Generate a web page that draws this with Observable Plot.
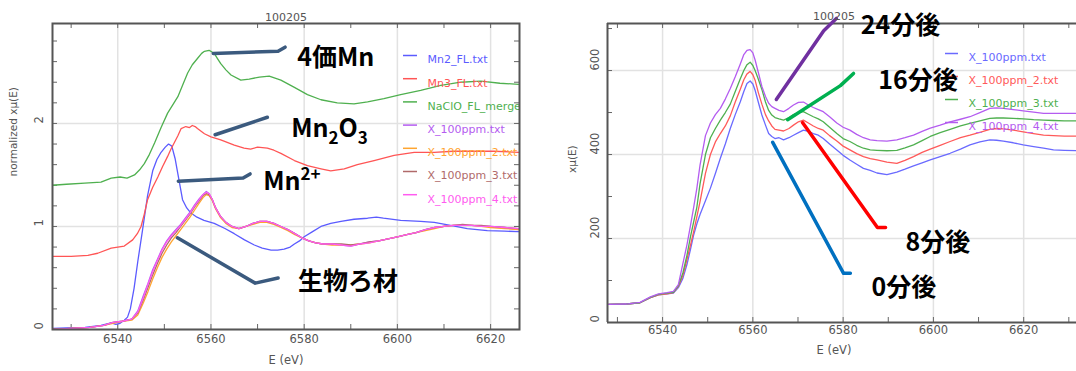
<!DOCTYPE html>
<html><head><meta charset="utf-8">
<script src="https://cdn.jsdelivr.net/npm/d3@7"></script>
<script src="https://cdn.jsdelivr.net/npm/@observablehq/plot@0.6"></script>
<style>
body{margin:0;background:#fff}
#wrap{display:flex;width:1076px;height:371px;overflow:hidden}
#wrap svg{flex:none}
</style>
</head><body><div id="wrap"></div>
<script>
// ---------- LEFT PANEL DATA (normalized xμ(E)) ----------
const leftTitle = "100205";
const leftXTicks = [6540, 6560, 6580, 6600, 6620];
const leftXMinor = [6530, 6540, 6550, 6560, 6570, 6580, 6590, 6600, 6610, 6620];
const leftYTicks = [0, 1, 2];
const leftYMinor = [0.2, 0.4, 0.6, 0.8, 1, 1.2, 1.4, 1.6, 1.8, 2, 2.2, 2.4, 2.6, 2.8];
const leftXDomain = [6526, 6626.2];
const leftYDomain = [0, 2.97];

const mn2E = [6526, 6529, 6533, 6536.4, 6538.6, 6539.6, 6540.5, 6541.4, 6542.1, 6542.7, 6543.5, 6544.3, 6545.3, 6546.4, 6547.5, 6548.4, 6549.3, 6550.2, 6550.9, 6551.6, 6552.3, 6552.9, 6553.9, 6554.8, 6555.7, 6557, 6558.5, 6560.7, 6563, 6565, 6567.2, 6569.3, 6571, 6572.9, 6574.3, 6575.7, 6577, 6577.9, 6579, 6580, 6581.8, 6583.6, 6585.7, 6587.9, 6590.7, 6593.6, 6595.5, 6597, 6600.7, 6605, 6607.9, 6611.4, 6615, 6619.3, 6623, 6626];
const mn2V = [0.01, 0.015, 0.02, 0.04, 0.065, 0.05, 0.06, 0.09, 0.12, 0.20, 0.40, 0.66, 0.96, 1.30, 1.54, 1.65, 1.72, 1.77, 1.80, 1.78, 1.66, 1.51, 1.26, 1.18, 1.13, 1.09, 1.06, 1.03, 0.98, 0.93, 0.87, 0.82, 0.79, 0.77, 0.77, 0.78, 0.80, 0.83, 0.86, 0.90, 0.95, 1.00, 1.03, 1.05, 1.07, 1.08, 1.09, 1.08, 1.06, 1.05, 1.04, 1.01, 0.98, 0.96, 0.955, 0.95];

const mn3E = [6526, 6530, 6533.6, 6535.7, 6538.6, 6541.4, 6543.2, 6544.2, 6545, 6545.7, 6546.4, 6547.5, 6548.6, 6549.6, 6550.7, 6551.4, 6552.1, 6552.9, 6553.6, 6554.6, 6555.4, 6556, 6556.6, 6557.1, 6558.6, 6560, 6562.1, 6565, 6567.1, 6568.5, 6570, 6572.1, 6573.5, 6575, 6577.9, 6580.7, 6583.6, 6585.7, 6588.6, 6591.4, 6595, 6599.3, 6603.6, 6607.9, 6612, 6616.4, 6620.7, 6626];
const mn3V = [0.71, 0.71, 0.72, 0.74, 0.79, 0.81, 0.87, 0.93, 1.00, 1.12, 1.26, 1.38, 1.48, 1.58, 1.68, 1.75, 1.81, 1.88, 1.95, 1.97, 1.96, 1.98, 1.97, 1.95, 1.90, 1.87, 1.84, 1.79, 1.76, 1.75, 1.77, 1.76, 1.74, 1.71, 1.64, 1.59, 1.56, 1.54, 1.56, 1.60, 1.64, 1.69, 1.72, 1.72, 1.73, 1.73, 1.73, 1.72];

const naclE = [6526, 6529, 6532.9, 6536.4, 6538.6, 6540.5, 6542, 6543.6, 6544.7, 6545.7, 6546.8, 6547.9, 6549.3, 6550.7, 6551.8, 6552.9, 6554, 6555, 6556, 6557.1, 6558, 6558.6, 6559.6, 6560.7, 6561.4, 6562.1, 6563.2, 6564.3, 6566.4, 6568.2, 6570.4, 6572.5, 6575, 6577.9, 6580.7, 6583.6, 6587.1, 6590.7, 6593.6, 6597.1, 6600.7, 6605, 6609.3, 6613.6, 6617.9, 6622, 6626];
const naclV = [1.40, 1.41, 1.42, 1.43, 1.47, 1.48, 1.47, 1.50, 1.55, 1.61, 1.70, 1.81, 1.96, 2.10, 2.18, 2.26, 2.38, 2.49, 2.57, 2.63, 2.68, 2.70, 2.71, 2.68, 2.63, 2.58, 2.52, 2.47, 2.42, 2.43, 2.45, 2.46, 2.42, 2.35, 2.28, 2.23, 2.20, 2.19, 2.21, 2.24, 2.28, 2.32, 2.37, 2.40, 2.41, 2.39, 2.38];

const sampE = [6526, 6530, 6534, 6537, 6539, 6541, 6543, 6544.3, 6545.5, 6546.5, 6547.5, 6548.5, 6549.5, 6550.5, 6551.5, 6552.5, 6553.5, 6554.5, 6555.5, 6556.5, 6557.5, 6558.3, 6559, 6559.6, 6560.3, 6561, 6562, 6563.2, 6564.5, 6566, 6567.5, 6569, 6570.5, 6572, 6573.5, 6575, 6576.5, 6578, 6579.5, 6581, 6582.5, 6584, 6586, 6588, 6590, 6592, 6594, 6596, 6598, 6600, 6602, 6604, 6606, 6608, 6610, 6612, 6614, 6616, 6618, 6620, 6623, 6626];
const samp1V = [0.00, 0.01, 0.02, 0.04, 0.07, 0.08, 0.10, 0.18, 0.33, 0.45, 0.58, 0.68, 0.78, 0.86, 0.92, 0.97, 1.02, 1.08, 1.14, 1.21, 1.27, 1.31, 1.34, 1.32, 1.26, 1.18, 1.10, 1.04, 1.00, 0.98, 1.00, 1.03, 1.05, 1.05, 1.03, 1.00, 0.97, 0.93, 0.89, 0.86, 0.84, 0.83, 0.83, 0.82, 0.81, 0.83, 0.85, 0.86, 0.88, 0.90, 0.92, 0.94, 0.97, 0.99, 1.00, 1.01, 1.01, 1.01, 1.00, 1.00, 0.99, 0.97];
const samp2V = [0.00, 0.01, 0.02, 0.04, 0.06, 0.08, 0.09, 0.14, 0.26, 0.37, 0.49, 0.60, 0.70, 0.78, 0.85, 0.91, 0.97, 1.03, 1.09, 1.16, 1.23, 1.28, 1.31, 1.30, 1.25, 1.17, 1.09, 1.03, 0.99, 0.98, 1.00, 1.02, 1.04, 1.04, 1.02, 0.99, 0.96, 0.92, 0.89, 0.86, 0.84, 0.83, 0.82, 0.82, 0.82, 0.83, 0.84, 0.86, 0.88, 0.90, 0.92, 0.94, 0.96, 0.98, 1.00, 1.01, 1.01, 1.01, 1.00, 0.99, 0.98, 0.97];
const samp3V = [0.00, 0.01, 0.02, 0.04, 0.07, 0.08, 0.10, 0.16, 0.29, 0.41, 0.53, 0.64, 0.74, 0.82, 0.89, 0.94, 1.00, 1.06, 1.12, 1.19, 1.25, 1.30, 1.32, 1.31, 1.26, 1.18, 1.10, 1.04, 1.00, 0.98, 1.00, 1.03, 1.05, 1.05, 1.03, 1.00, 0.97, 0.93, 0.89, 0.86, 0.84, 0.83, 0.83, 0.83, 0.82, 0.83, 0.85, 0.86, 0.88, 0.90, 0.92, 0.94, 0.97, 0.99, 1.00, 1.01, 1.02, 1.01, 1.01, 1.00, 0.99, 0.98];
const samp4V = [0.00, 0.01, 0.02, 0.04, 0.07, 0.08, 0.10, 0.17, 0.31, 0.44, 0.56, 0.67, 0.77, 0.85, 0.91, 0.96, 1.01, 1.07, 1.13, 1.20, 1.26, 1.31, 1.33, 1.32, 1.26, 1.18, 1.10, 1.04, 1.00, 0.98, 1.00, 1.03, 1.05, 1.05, 1.03, 1.00, 0.97, 0.93, 0.89, 0.86, 0.84, 0.83, 0.83, 0.82, 0.81, 0.83, 0.84, 0.86, 0.88, 0.90, 0.92, 0.94, 0.97, 0.99, 1.00, 1.01, 1.01, 1.01, 1.00, 1.00, 0.99, 0.98];

const leftNames = ["Mn2_FL.txt", "Mn3_FL.txt", "NaClO_FL_merge", "X_100ppm.txt", "X_100ppm_2.txt", "X_100ppm_3.txt", "X_100ppm_4.txt"];
const leftColors = ["#5b5bff", "#ff5555", "#4fb04f", "#b45cf0", "#ffa530", "#b06a6a", "#ff5cf0"];

// callouts (left): label, anchor points [eV, value], label position
const leftCalloutLabels = ["4価Mn", "Mn₂O₃", "Mn²⁺", "生物ろ材"];
const leftCalloutE = [[6560.5, 6574.4, 6575.9], [6560.9, 6572.1], [6553, 6566.9, 6568.4], [6552.8, 6569.5, 6574.4]];
const leftCalloutV = [[2.68, 2.70, 2.74], [1.89, 2.06], [1.44, 1.47, 1.51], [0.89, 0.45, 0.50]];
const leftLabelE = [6578.5, 6577.2, 6571.2, 6578.7];
const leftLabelV = [2.64, 1.95, 1.43, 0.46];

// ---------- RIGHT PANEL DATA (xμ(E)) ----------
const rightTitle = "100205";
const rightXTicks = [6540, 6560, 6580, 6600, 6620];
const rightXMinor = [6530, 6540, 6550, 6560, 6570, 6580, 6590, 6600, 6610, 6620, 6630];
const rightYTicks = [0, 200, 400, 600];
const rightYMinor = [100, 200, 300, 400, 500, 600, 700];
const rightXDomain = [6527.8, 6631.7];
const rightYDomain = [0, 712];

const rE = [6528, 6532, 6535, 6537.3, 6539.1, 6541, 6542.4, 6543.5, 6544.5, 6545.4, 6546.2, 6546.9, 6547.6, 6548.3, 6549.5, 6550.6, 6551.7, 6552.8, 6553.9, 6555, 6556.1, 6557.2, 6558, 6558.7, 6559.4, 6560, 6560.5, 6561.2, 6562, 6562.8, 6563.5, 6564.2, 6564.9, 6565.8, 6566.8, 6568, 6569, 6570.1, 6571.2, 6572.3, 6573.4, 6574.5, 6575.6, 6577, 6578.6, 6580, 6581.5, 6583, 6584.5, 6586, 6587.5, 6589.7, 6591.9, 6593.7, 6595.6, 6597.5, 6599.3, 6601.5, 6603.7, 6606, 6608.1, 6610.3, 6612.5, 6614, 6615.5, 6617.7, 6619.9, 6622.2, 6624.4, 6626.6, 6629, 6632];
const r0V = [43, 44, 47, 59, 66, 68, 70, 83, 105, 138, 175, 209, 235, 257, 290, 320, 355, 391, 425, 462, 495, 525, 550, 569, 575, 568, 553, 525, 494, 470, 450, 443, 438, 440, 435, 440, 446, 452, 458, 455, 450, 446, 438, 425, 411, 398, 387, 377, 367, 362, 356, 352, 358, 365, 373, 380, 387, 395, 403, 413, 423, 430, 435, 434, 432, 428, 423, 419, 415, 411, 410, 409];
const r8V = [43, 44, 47, 59, 66, 68, 71, 86, 112, 150, 185, 217, 252, 288, 355, 400, 430, 450, 468, 492, 525, 555, 578, 592, 598, 590, 577, 548, 520, 495, 480, 468, 460, 458, 456, 462, 470, 478, 482, 475, 468, 462, 458, 445, 432, 420, 411, 402, 395, 390, 387, 382, 379, 386, 395, 405, 413, 422, 431, 440, 446, 453, 460, 462, 461, 458, 454, 450, 446, 445, 444, 444];
const r16V = [43, 44, 47, 60, 67, 70, 72, 88, 118, 160, 205, 240, 275, 330, 400, 440, 462, 482, 500, 520, 550, 580, 600, 614, 620, 612, 600, 580, 555, 525, 505, 494, 488, 485, 482, 488, 495, 500, 502, 496, 490, 485, 478, 465, 450, 438, 431, 422, 415, 411, 410, 409, 410, 416, 423, 433, 443, 452, 460, 468, 474, 480, 486, 487, 487, 486, 485, 483, 482, 481, 480, 480];
const r24V = [43, 44, 48, 61, 68, 71, 74, 90, 140, 185, 232, 275, 320, 375, 445, 475, 495, 510, 532, 557, 585, 615, 638, 648, 650, 642, 625, 596, 562, 538, 522, 514, 510, 505, 502, 510, 518, 524, 525, 518, 512, 507, 502, 490, 475, 465, 458, 448, 440, 435, 433, 432, 435, 440, 446, 455, 463, 470, 478, 484, 490, 500, 510, 511, 510, 507, 504, 501, 498, 498, 498, 498];

const rightNames = ["X_100ppm.txt", "X_100ppm_2.txt", "X_100ppm_3.txt", "X_100ppm_4.txt"];
const rightColors = ["#6a6aff", "#ff5a5a", "#4fb04f", "#b45cf0"];

const rightCalloutLabels = ["24分後", "16分後", "8分後", "0分後"];
const rightCalloutColors = ["#7030a0", "#00b050", "#ff0000", "#0070c0"];
const rightCalloutE = [[6565.2, 6575.7, 6578.5], [6567.7, 6579.4, 6582.3], [6571, 6587.6, 6589.4], [6564.4, 6580.1, 6581.6]];
const rightCalloutV = [[531, 695, 724], [483, 564, 593], [476, 226, 226], [429, 117, 117]];
const rightLabelE = [6583.9, 6587.8, 6593.8, 6586.3];
const rightLabelV = [707, 576, 190, 83];

// ---------- helpers ----------
const W = 538, H = 371;
const rows = (E, V) => E.map((e, i) => ({e, v: V[i]}));
const axisFont = "DejaVu Sans, Liberation Sans, sans-serif";
const jpFont = "'Noto Sans CJK JP', 'DejaVu Sans', sans-serif";

// legend: swatch = short horizontal rule placed by pixel offsets inside the frame
function legendMarks(names, colors, yDomain, fW, fH, xLine0, xLine1, dxText, dy0, step, clip) {
  const m = [];
  names.forEach((n, i) => {
    const dy = dy0 + i * step;
    const yv = yDomain[1] - dy / fH * (yDomain[1] - yDomain[0]);
    m.push(Plot.ruleY([yv], {insetLeft: xLine0, insetRight: fW - xLine1, stroke: colors[i], strokeWidth: 1.5}));
    m.push(Plot.text([n], {frameAnchor: "top-left", dx: dxText, dy, fill: colors[i], fontSize: 11, fontFamily: axisFont, textAnchor: "start", clip}));
  });
  return m;
}

function calloutRows(labels, E, V) {
  const out = [];
  labels.forEach((l, k) => E[k].forEach((e, i) => out.push({k: l, e, v: V[k][i]})));
  return out;
}

// render chemical sub/superscripts as real text with tspans
const richParts = {
  "Mn₂O₃": [["Mn", 0, null], ["2", 7, 17], ["O", -7, null], ["3", 7, 17]],
  "Mn²⁺": [["Mn", 0, null], ["2+", -10, 17]]
};
function richify(svg) {
  svg.querySelectorAll("text").forEach(t => {
    const parts = richParts[t.textContent];
    if (!parts) return;
    t.textContent = "";
    parts.forEach(([s, dy, fs]) => {
      const ts = document.createElementNS("http://www.w3.org/2000/svg", "tspan");
      ts.textContent = s;
      if (dy) ts.setAttribute("dy", dy);
      if (fs) ts.setAttribute("font-size", fs);
      t.appendChild(ts);
    });
  });
  return svg;
}

// ---------- LEFT PLOT ----------
const Lm = {l: 52, r: 19, t: 23, b: 42};
const LfW = W - Lm.l - Lm.r, LfH = H - Lm.t - Lm.b;
const leftSeries = [rows(mn2E, mn2V), rows(mn3E, mn3V), rows(naclE, naclV), rows(sampE, samp1V), rows(sampE, samp2V), rows(sampE, samp3V), rows(sampE, samp4V)];
const leftLabels = leftCalloutLabels.map((t, i) => ({t, e: leftLabelE[i], v: leftLabelV[i]}));

const left = Plot.plot({
  width: W, height: H,
  marginLeft: Lm.l, marginRight: Lm.r, marginTop: Lm.t, marginBottom: Lm.b,
  x: {domain: leftXDomain, axis: null},
  y: {domain: leftYDomain, axis: null},
  style: {background: "white", overflow: "visible"},
  marks: [
    Plot.ruleX(leftXTicks, {stroke: "#e2e2e2", strokeWidth: 1.5}),
    Plot.ruleY(leftYTicks, {stroke: "#e2e2e2", strokeWidth: 1.5}),
    Plot.ruleX(leftXMinor, {stroke: "#666", insetTop: LfH - 5}),
    Plot.ruleX(leftXMinor, {stroke: "#666", insetBottom: LfH - 5}),
    Plot.ruleY(leftYMinor, {stroke: "#666", insetRight: LfW - 5}),
    Plot.ruleY(leftYMinor, {stroke: "#666", insetLeft: LfW - 5}),
    ...leftSeries.map((d, i) => Plot.line(d, {x: "e", y: "v", stroke: leftColors[i], strokeWidth: 1.3, clip: true})),
    ...legendMarks(leftNames, leftColors, leftYDomain, LfW, LfH, 351, 365, 375, 32, 23.2, true),
    Plot.line(calloutRows(leftCalloutLabels, leftCalloutE, leftCalloutV), {x: "e", y: "v", z: "k", stroke: "#3b5a7e", strokeWidth: 3.5}),
    Plot.text(leftLabels, {x: "e", y: "v", text: "t", textAnchor: "start", fontSize: 25, fontWeight: "bold", fontFamily: jpFont, fill: "#000"}),
    Plot.frame({stroke: "#555", strokeWidth: 2}),
    Plot.text(leftXTicks, {x: d => d, frameAnchor: "bottom", dy: 13, text: d => String(d), fill: "#555", fontSize: 11.5, fontFamily: axisFont}),
    Plot.text(leftYTicks, {y: d => d, frameAnchor: "left", dx: -13, rotate: -90, text: d => String(d), fill: "#555", fontSize: 11.5, fontFamily: axisFont}),
    Plot.text(["normalized xμ(E)"], {frameAnchor: "left", dx: -39, rotate: -90, fill: "#555", fontSize: 10.5, fontFamily: axisFont}),
    Plot.text(["E (eV)"], {frameAnchor: "bottom", dy: 34, fill: "#555", fontSize: 11.5, fontFamily: axisFont}),
    Plot.text([leftTitle], {frameAnchor: "top", dy: -10, fill: "#555", fontSize: 11, fontFamily: axisFont})
  ]
});

// ---------- RIGHT PLOT ----------
const Rm = {l: 69, r: 0, t: 23, b: 49};
const RfW = W - Rm.l - Rm.r, RfH = H - Rm.t - Rm.b;
const rightSeries = [rows(rE, r0V), rows(rE, r8V), rows(rE, r16V), rows(rE, r24V)];
const rightLabels = rightCalloutLabels.map((t, i) => ({t, e: rightLabelE[i], v: rightLabelV[i]}));

const right = Plot.plot({
  width: W, height: H,
  marginLeft: Rm.l, marginRight: Rm.r, marginTop: Rm.t, marginBottom: Rm.b,
  x: {domain: rightXDomain, axis: null},
  y: {domain: rightYDomain, axis: null},
  style: {background: "white", overflow: "visible"},
  marks: [
    Plot.ruleX(rightXTicks, {stroke: "#e2e2e2", strokeWidth: 1.5}),
    Plot.ruleY(rightYTicks.filter(d => d > 0), {stroke: "#e2e2e2", strokeWidth: 1.5}),
    Plot.ruleX(rightXMinor, {stroke: "#666", insetTop: RfH - 5}),
    Plot.ruleX(rightXMinor, {stroke: "#666", insetBottom: RfH - 5}),
    Plot.ruleY(rightYMinor, {stroke: "#666", insetRight: RfW - 5}),
    ...rightSeries.map((d, i) => Plot.line(d, {x: "e", y: "v", stroke: rightColors[i], strokeWidth: 1.3})),
    ...legendMarks(rightNames, rightColors, rightYDomain, RfW, RfH, 338, 351, 361, 30, 23, false),
    Plot.ruleX([rightXDomain[0]], {stroke: "#555", strokeWidth: 2}),
    Plot.ruleY(rightYDomain, {stroke: "#555", strokeWidth: 2}),
    ...rightCalloutLabels.map((l, k) => Plot.line(rows(rightCalloutE[k], rightCalloutV[k]), {x: "e", y: "v", stroke: rightCalloutColors[k], strokeWidth: 3.5})),
    Plot.text(rightLabels, {x: "e", y: "v", text: "t", textAnchor: "start", fontSize: 25, fontWeight: "bold", fontFamily: jpFont, fill: "#000"}),
    Plot.text(rightXTicks, {x: d => d, frameAnchor: "bottom", dy: 11, text: d => String(d), fill: "#555", fontSize: 11.5, fontFamily: axisFont}),
    Plot.text(rightYTicks, {y: d => d, frameAnchor: "left", dx: -12, rotate: -90, text: d => String(d), fill: "#555", fontSize: 11.5, fontFamily: axisFont}),
    Plot.text(["xμ(E)"], {frameAnchor: "left", dx: -35, rotate: -90, fill: "#555", fontSize: 10.5, fontFamily: axisFont}),
    Plot.text(["E (eV)"], {frameAnchor: "bottom", dy: 31, dx: -8, fill: "#555", fontSize: 11.5, fontFamily: axisFont}),
    Plot.text([rightTitle], {frameAnchor: "top", dy: -11, dx: -8, fill: "#555", fontSize: 11, fontFamily: axisFont})
  ]
});

const wrap = document.getElementById("wrap");
wrap.appendChild(richify(left));
wrap.appendChild(right);
</script></body></html>
